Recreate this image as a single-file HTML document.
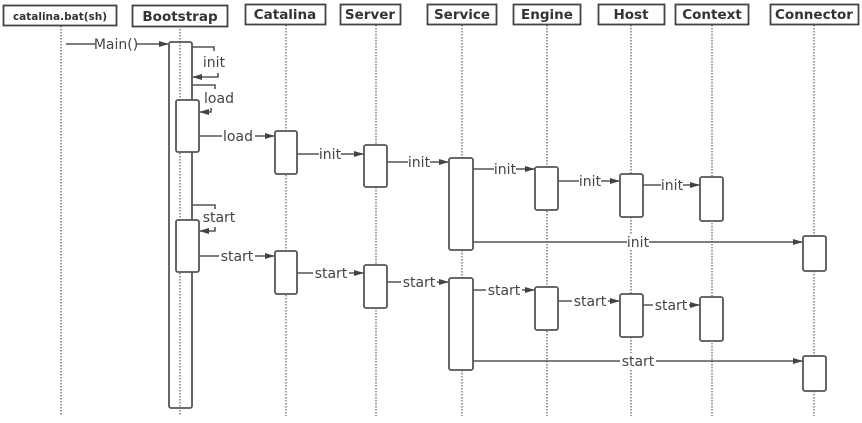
<!DOCTYPE html>
<html><head><meta charset="utf-8"><style>
html,body{margin:0;padding:0;background:#fff;}
svg{display:block;}
text{font-family:"DejaVu Sans","Liberation Sans",sans-serif;fill:#444;}
.h{font-weight:bold;font-size:13.5px;text-anchor:middle;fill:#333;}
.m{font-size:14px;text-anchor:middle;}
.ll{stroke:#666;stroke-width:1.3;stroke-dasharray:1.5 1.5;}
.b{fill:#fff;stroke:#444;stroke-width:1.8;}
.a{fill:#fff;stroke:#555;stroke-width:1.8;}
.l{stroke:#555;stroke-width:1.6;fill:none;}
.w{fill:#fff;stroke:none;}
</style></head><body>
<svg width="862" height="423" viewBox="0 0 862 423" xmlns="http://www.w3.org/2000/svg">
<defs><marker id="ar" markerWidth="10" markerHeight="8" refX="9" refY="4" orient="auto" markerUnits="userSpaceOnUse"><path d="M0,1 L10,4 L0,7 Z" fill="#444"/></marker></defs>
<line class="ll" x1="61" y1="26" x2="61" y2="416"/>
<line class="ll" x1="180" y1="26" x2="180" y2="416"/>
<line class="ll" x1="286" y1="25" x2="286" y2="416"/>
<line class="ll" x1="376" y1="25" x2="376" y2="416"/>
<line class="ll" x1="462" y1="25" x2="462" y2="416"/>
<line class="ll" x1="547" y1="25" x2="547" y2="416"/>
<line class="ll" x1="631" y1="25" x2="631" y2="416"/>
<line class="ll" x1="712" y1="25" x2="712" y2="416"/>
<line class="ll" x1="814" y1="25" x2="814" y2="416"/>
<rect class="b" x="3.5" y="5.5" width="113" height="20"/><text class="h" x="60" y="20" style="font-size:10.5px">catalina.bat(sh)</text>
<rect class="b" x="132.5" y="5.5" width="95" height="21"/><text class="h" x="180" y="21">Bootstrap</text>
<rect class="b" x="245.5" y="4.5" width="80" height="20"/><text class="h" x="285" y="19">Catalina</text>
<rect class="b" x="340.5" y="4.5" width="60" height="20"/><text class="h" x="370" y="19">Server</text>
<rect class="b" x="427.5" y="4.5" width="69" height="20"/><text class="h" x="462" y="19">Service</text>
<rect class="b" x="513.5" y="4.5" width="67" height="20"/><text class="h" x="547" y="19">Engine</text>
<rect class="b" x="598.5" y="4.5" width="66" height="20"/><text class="h" x="631" y="19">Host</text>
<rect class="b" x="675.5" y="4.5" width="73" height="20"/><text class="h" x="712" y="19">Context</text>
<rect class="b" x="770.5" y="4.5" width="88" height="20"/><text class="h" x="814" y="19">Connector</text>
<rect class="a" x="169" y="42" width="23" height="366" rx="2"/>
<line class="ll" x1="180" y1="42" x2="180" y2="408"/>
<rect class="a" x="176" y="100" width="23" height="52" rx="2"/>
<rect class="a" x="176" y="220" width="23" height="52" rx="2"/>
<rect class="a" x="275" y="131" width="22" height="43" rx="2"/>
<rect class="a" x="275" y="251" width="22" height="43" rx="2"/>
<rect class="a" x="364" y="145" width="23" height="42" rx="2"/>
<rect class="a" x="364" y="265" width="23" height="43" rx="2"/>
<rect class="a" x="449" y="158" width="24" height="92" rx="2"/>
<rect class="a" x="449" y="278" width="24" height="92" rx="2"/>
<rect class="a" x="535" y="167" width="23" height="43" rx="2"/>
<rect class="a" x="535" y="287" width="23" height="43" rx="2"/>
<rect class="a" x="620" y="174" width="23" height="43" rx="2"/>
<rect class="a" x="620" y="294" width="23" height="43" rx="2"/>
<rect class="a" x="700" y="177" width="23" height="44" rx="2"/>
<rect class="a" x="700" y="297" width="23" height="44" rx="2"/>
<rect class="a" x="803" y="236" width="23" height="35" rx="2"/>
<rect class="a" x="803" y="356" width="23" height="35" rx="2"/>
<line class="l" x1="66" y1="44" x2="168" y2="44" marker-end="url(#ar)"/>
<rect class="w" x="95" y="36" width="42" height="16"/><text class="m" x="116" y="49">Main()</text>
<path class="l" d="M192,47 H214 V51"/><path class="l" d="M218,73 V77 H193" marker-end="url(#ar)"/>
<text class="m" x="214" y="67">init</text>
<path class="l" d="M192,85 H215 V89"/><path class="l" d="M211,108 V112 H200" marker-end="url(#ar)"/>
<text class="m" x="219" y="103">load</text>
<path class="l" d="M192,205 H215 V209"/><path class="l" d="M215,227 V231 H200" marker-end="url(#ar)"/>
<text class="m" x="219" y="222">start</text>
<line class="l" x1="199" y1="136" x2="274" y2="136" marker-end="url(#ar)"/>
<rect class="w" x="222" y="128" width="33" height="16"/><text class="m" x="238" y="141">load</text>
<line class="l" x1="297" y1="154" x2="363" y2="154" marker-end="url(#ar)"/>
<rect class="w" x="319" y="146" width="22" height="16"/><text class="m" x="330" y="159">init</text>
<line class="l" x1="387" y1="162" x2="448" y2="162" marker-end="url(#ar)"/>
<rect class="w" x="408" y="154" width="22" height="16"/><text class="m" x="419" y="167">init</text>
<line class="l" x1="473" y1="169" x2="534" y2="169" marker-end="url(#ar)"/>
<rect class="w" x="494" y="161" width="22" height="16"/><text class="m" x="505" y="174">init</text>
<line class="l" x1="558" y1="181" x2="619" y2="181" marker-end="url(#ar)"/>
<rect class="w" x="579" y="173" width="22" height="16"/><text class="m" x="590" y="186">init</text>
<line class="l" x1="643" y1="185" x2="699" y2="185" marker-end="url(#ar)"/>
<rect class="w" x="661" y="177" width="22" height="16"/><text class="m" x="672" y="190">init</text>
<line class="l" x1="473" y1="242" x2="802" y2="242" marker-end="url(#ar)"/>
<rect class="w" x="627" y="234" width="22" height="16"/><text class="m" x="638" y="247">init</text>
<line class="l" x1="199" y1="256" x2="274" y2="256" marker-end="url(#ar)"/>
<rect class="w" x="219" y="248" width="36" height="16"/><text class="m" x="237" y="261">start</text>
<line class="l" x1="297" y1="273" x2="363" y2="273" marker-end="url(#ar)"/>
<rect class="w" x="313" y="265" width="36" height="16"/><text class="m" x="331" y="278">start</text>
<line class="l" x1="387" y1="282" x2="448" y2="282" marker-end="url(#ar)"/>
<rect class="w" x="401" y="274" width="36" height="16"/><text class="m" x="419" y="287">start</text>
<line class="l" x1="473" y1="290" x2="534" y2="290" marker-end="url(#ar)"/>
<rect class="w" x="486" y="282" width="36" height="16"/><text class="m" x="504" y="295">start</text>
<line class="l" x1="558" y1="301" x2="619" y2="301" marker-end="url(#ar)"/>
<rect class="w" x="572" y="293" width="36" height="16"/><text class="m" x="590" y="306">start</text>
<line class="l" x1="643" y1="305" x2="699" y2="305" marker-end="url(#ar)"/>
<rect class="w" x="653" y="297" width="36" height="16"/><text class="m" x="671" y="310">start</text>
<line class="l" x1="473" y1="361" x2="802" y2="361" marker-end="url(#ar)"/>
<rect class="w" x="620" y="353" width="36" height="16"/><text class="m" x="638" y="366">start</text>
</svg>
</body></html>
